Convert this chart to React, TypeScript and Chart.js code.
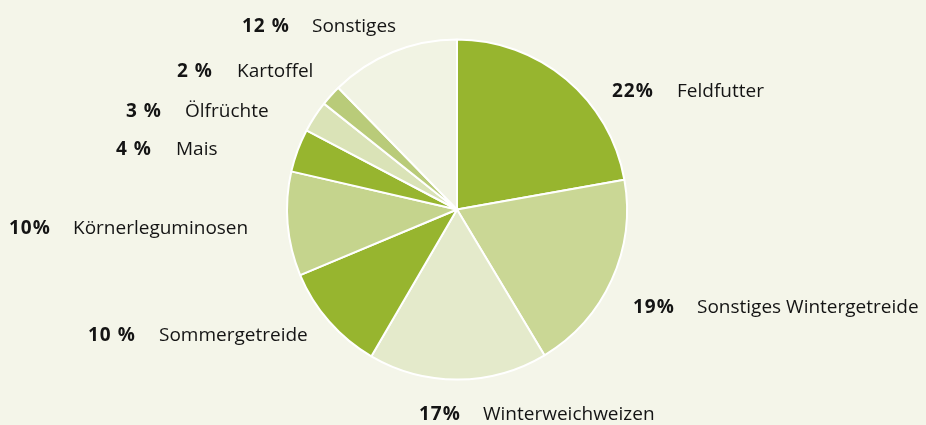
import React, { useEffect, useRef } from "react";
import { Chart, registerables } from "chart.js";

Chart.register(...registerables);

// ---- data ----
const categories = [
  "Feldfutter",
  "Sonstiges Wintergetreide",
  "Winterweichweizen",
  "Sommergetreide",
  "Körnerleguminosen",
  "Mais",
  "Ölfrüchte",
  "Kartoffel",
  "Sonstiges",
];
const shares = [22.2, 19.2, 17.0, 10.3, 9.9, 4.1, 3.0, 2.0, 12.3];
const percentLabels = ["22%", "19%", "17%", "10 %", "10%", "4 %", "3 %", "2 %", "12 %"];

// ---- styles ----
const sliceColors = [
  "#97b52f",
  "#cad795",
  "#e4eacb",
  "#97b52f",
  "#c5d48d",
  "#97b52f",
  "#dae3b7",
  "#b9cb79",
  "#f1f3e3",
];
const BG = "#f4f5e9";
// label layout: [number left x, name left x, center y]
const labelLayout: [number, number, number][] = [
  [612, 677, 92],
  [633, 697, 308],
  [419, 483, 415],
  [88, 159, 336],
  [9, 73, 229],
  [116, 176, 150],
  [126, 185, 112],
  [177, 237, 72],
  [242, 312, 27],
];

const labelPlugin = {
  id: "customLabels",
  afterDraw(chart: any) {
    const ctx = chart.ctx;
    ctx.save();
    ctx.textBaseline = "middle";
    ctx.textAlign = "left";
    ctx.fillStyle = "#141414";
    categories.forEach((name, i) => {
      const [nx, tx, y] = labelLayout[i];
      ctx.font = "bold 19px 'Open Sans'";
      (ctx as any).letterSpacing = "1px";
      ctx.fillText(percentLabels[i], nx, y);
      (ctx as any).letterSpacing = "0px";
      ctx.font = "19px 'Open Sans'";
      ctx.fillText(name, tx, y);
    });
    ctx.restore();
  },
};

export default function App() {
  const ref = useRef<HTMLCanvasElement>(null);
  useEffect(() => {
    document.body.style.margin = "0";
    document.body.style.background = BG;
    const chart = new Chart(ref.current!, {
      type: "pie",
      data: {
        labels: categories,
        datasets: [
          {
            data: shares,
            backgroundColor: sliceColors,
            borderColor: "#ffffff",
            borderWidth: 2,
          },
        ],
      },
      options: {
        responsive: false,
        animation: false,
        layout: { padding: { left: 286, right: 298, top: 38.5, bottom: 44.5 } },
        plugins: {
          legend: { display: false },
          tooltip: { enabled: false },
        },
      },
      plugins: [labelPlugin],
    });
    return () => chart.destroy();
  }, []);
  return (
    <div style={{ width: 926, height: 425, background: BG }}>
      <canvas ref={ref} width={926} height={425} style={{ display: "block" }} />
    </div>
  );
}
